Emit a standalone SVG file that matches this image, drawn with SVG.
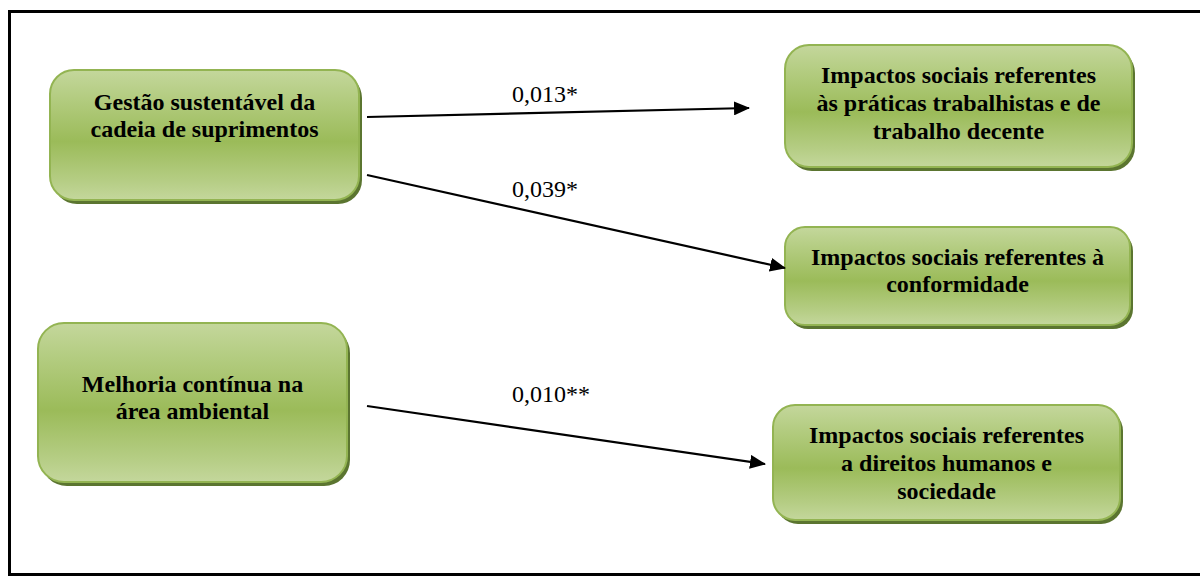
<svg xmlns="http://www.w3.org/2000/svg" width="1200" height="576" viewBox="0 0 1200 576">
  <defs>
    <linearGradient id="nodeFill" x1="0" y1="0" x2="0" y2="1">
      <stop offset="0" stop-color="#c4d79c"/>
      <stop offset="0.22" stop-color="#b3cc80"/>
      <stop offset="0.55" stop-color="#9bbb59"/>
      <stop offset="0.85" stop-color="#b5cd84"/>
      <stop offset="1" stop-color="#c4d79c"/>
    </linearGradient>
    <marker id="arrowHead" viewBox="0 0 16 14" refX="15" refY="7" markerWidth="16" markerHeight="14" markerUnits="userSpaceOnUse" orient="auto">
      <path d="M0,0 L16,7 L0,14 Z" fill="#000"/>
    </marker>
  </defs>
  <style>
    .shadow { fill: #5b7530; }
    .box { fill: url(#nodeFill); stroke: #93b452; stroke-width: 2; }
    text { font-family: 'Liberation Serif', 'Times New Roman', serif; font-size: 24px; fill: #000; }
    .label { font-weight: bold; text-anchor: middle; }
    .edge { stroke: #000; stroke-width: 2.2; fill: none; marker-end: url(#arrowHead); }
    .frame { stroke: #000; stroke-width: 3; fill: none; }
  </style>

  <rect width="1200" height="576" fill="#fff"/>
  <!-- outer frame, right side runs past the canvas edge -->
  <path class="frame" d="M1203,11.5 H9.5 V574.5 H1203"/>

  <g id="node-gestao">
    <rect class="shadow" x="53" y="74" width="309" height="130" rx="24"/>
    <rect class="box" x="50" y="70" width="309" height="130" rx="24"/>
    <text class="label" x="204.5" y="110">Gestão sustentável da</text>
    <text class="label" x="204.5" y="137">cadeia de suprimentos</text>
  </g>

  <g id="node-praticas">
    <rect class="shadow" x="788" y="49" width="347" height="122" rx="24"/>
    <rect class="box" x="785" y="45" width="347" height="122" rx="24"/>
    <text class="label" x="958.5" y="83">Impactos sociais referentes</text>
    <text class="label" x="958.5" y="111">às práticas trabalhistas e de</text>
    <text class="label" x="958.5" y="139">trabalho decente</text>
  </g>

  <g id="node-conformidade">
    <rect class="shadow" x="788" y="231" width="345" height="98" rx="20"/>
    <rect class="box" x="785" y="227" width="345" height="98" rx="20"/>
    <text class="label" x="957.5" y="265">Impactos sociais referentes à</text>
    <text class="label" x="957.5" y="292">conformidade</text>
  </g>

  <g id="node-melhoria">
    <rect class="shadow" x="41" y="327" width="309" height="159" rx="26"/>
    <rect class="box" x="38" y="323" width="309" height="159" rx="26"/>
    <text class="label" x="192.5" y="392">Melhoria contínua na</text>
    <text class="label" x="192.5" y="419">área ambiental</text>
  </g>

  <g id="node-direitos">
    <rect class="shadow" x="776" y="409" width="347" height="115" rx="22"/>
    <rect class="box" x="773" y="405" width="347" height="115" rx="22"/>
    <text class="label" x="946.5" y="443">Impactos sociais referentes</text>
    <text class="label" x="946.5" y="471">a direitos humanos e</text>
    <text class="label" x="946.5" y="499">sociedade</text>
  </g>

  <g id="connectors">
    <line class="edge" x1="367" y1="117" x2="749" y2="108"/>
    <line class="edge" x1="367" y1="175" x2="785" y2="268"/>
    <line class="edge" x1="367" y1="406" x2="765" y2="464"/>
    <text x="512" y="102">0,013*</text>
    <text x="512" y="197">0,039*</text>
    <text x="512" y="402">0,010**</text>
  </g>
</svg>
